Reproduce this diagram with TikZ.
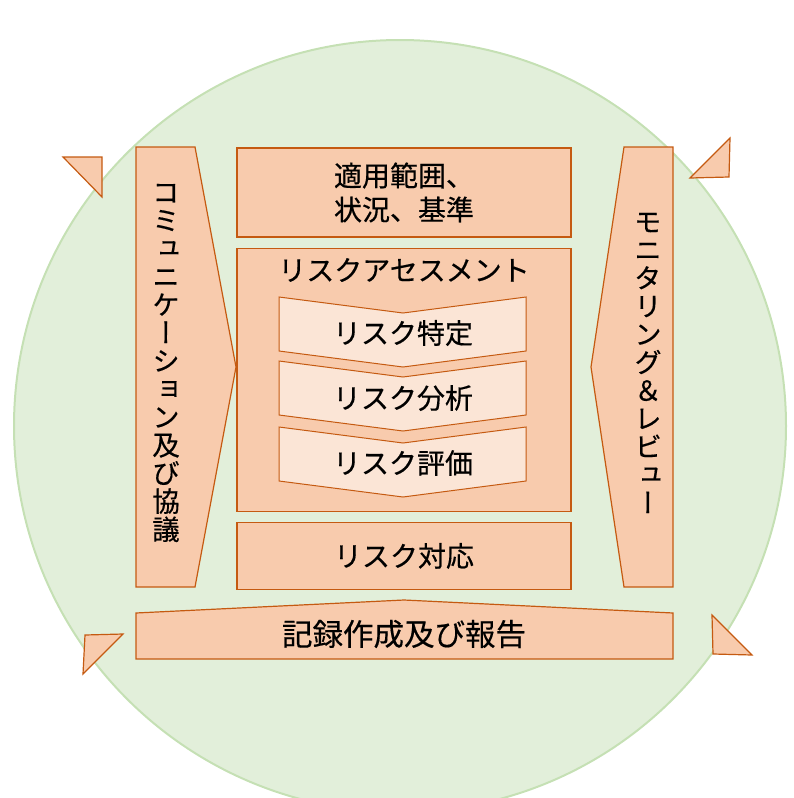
\documentclass[tikz,border=0pt]{standalone}
\usepackage{fontspec}
\setmainfont{Noto Sans CJK JP}[FakeBold=0.4]
\newfontfamily\vertfont[RawFeature=+vert, FakeBold=0.4]{Noto Sans CJK JP}
\usetikzlibrary{positioning}

\definecolor{boxfill}{HTML}{F8CBAD}
\definecolor{boxline}{HTML}{C55A11}
\definecolor{chevfill}{HTML}{FBE5D6}
\definecolor{ringfill}{HTML}{E2EFDA}
\definecolor{ringline}{HTML}{C5E0B4}

\begin{document}
\begin{tikzpicture}[
		x=1pt, y=-1pt,
		block/.style={draw=boxline, line width=1.2pt, fill=boxfill},
		cbox/.style={block, minimum width=334pt, align=center, inner sep=0pt,
			font=\fontsize{28}{34}\selectfont},
		chev/.style={draw=boxline, line width=1pt, fill=chevfill},
		label/.style={font=\fontsize{28}{34}\selectfont, inner sep=0pt},
		vlabel/.style={align=center, inner sep=0pt, font=\vertfont\fontsize{27.5}{28.1}\selectfont},
		tip/.style={block, line join=miter}
		]
		\useasboundingbox (0,0) rectangle (794,798);
		
		% ==========================================
		% 1. BACKGROUND CYCLE
		% ==========================================
		
		\fill[ringfill, draw=ringline, line width=2pt] (400,426) circle (386);
		
		% Arrow tips round the cycle
		\draw[tip] (63,157) -- (102,157) -- (102,197) -- cycle;
		\draw[tip] (730,138) -- (729,177) -- (690,178) -- cycle;
		\draw[tip] (85,635) -- (123,634) -- (83,674) -- cycle;
		\draw[tip] (712,615) -- (713,654) -- (752,655) -- cycle;
		
		% ==========================================
		% 2. SIDE AND BOTTOM ARROWS
		% ==========================================
		
		\draw[block] (136,147) -- (195,147) -- (236,367) -- (195,587) -- (136,587) -- cycle;
		\node[vlabel] (comm) at (166,363) {コ\\ミ\\ュ\\ニ\\ケ\\ー\\シ\\ョ\\ン\\及\\び\\協\\議};
		
		\draw[block] (624,147) -- (673,147) -- (673,587) -- (624,587) -- (591,367) -- cycle;
		\node[vlabel] (monitor) at (648,363) {モ\\ニ\\タ\\リ\\ン\\グ\\＆\\レ\\ビ\\ュ\\ー};
		
		\draw[block] (136,613) -- (404,600) -- (673,613) -- (673,659) -- (136,659) -- cycle;
		\node[label, font=\fontsize{30.5}{36}\selectfont] (record) at (404,634) {記録作成及び報告};
		
		% ==========================================
		% 3. CENTRAL PROCESS
		% ==========================================
		
		\node[cbox, minimum height=89pt] (scope) at (404,192.5) {適用範囲、\\状況、基準};
		\node[cbox, minimum height=263pt, below=10pt of scope] (assess) {};
		\node[cbox, minimum height=67pt, below=10pt of assess] (treat) {リスク対応};
		\node[label] (assesstitle) at (404,270) {リスクアセスメント};
		
		% Steps of the assessment
		\draw[chev] (279,297) -- (403,313) -- (526,297) -- (526,351) -- (403,367) -- (279,351) -- cycle;
		\node[label] (identify) at (403,333) {リスク特定};
		\draw[chev] (279,361) -- (403,377) -- (526,361) -- (526,415) -- (403,431) -- (279,415) -- cycle;
		\node[label] (analyse) at (403,398) {リスク分析};
		\draw[chev] (279,427) -- (403,443) -- (526,427) -- (526,481) -- (403,497) -- (279,481) -- cycle;
		\node[label] (evaluate) at (403,463) {リスク評価};
		
	\end{tikzpicture}
\end{document}
